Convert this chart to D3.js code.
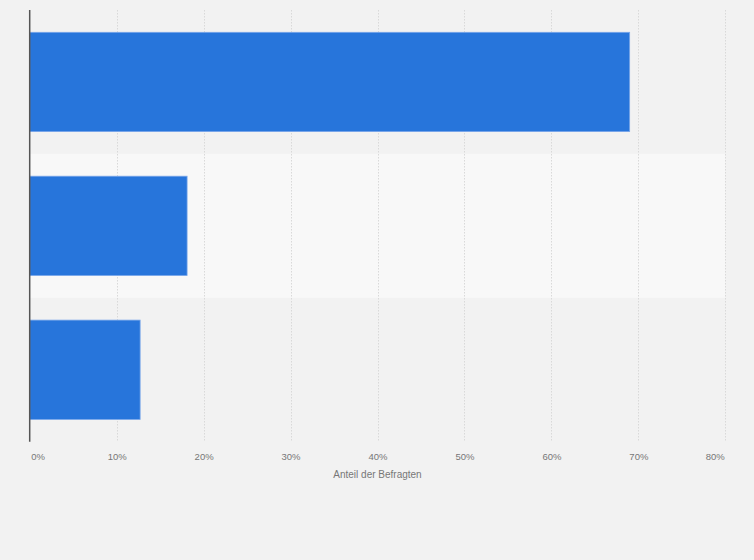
<!DOCTYPE html>
<html>
<head>
<meta charset="utf-8">
<script src="https://cdn.jsdelivr.net/npm/d3@7"></script>
<style>
  html, body { margin: 0; padding: 0; background: #f2f2f2; }
  svg { display: block; }
  text { font-family: "Liberation Sans", Arial, sans-serif; }
</style>
</head>
<body>
<svg id="chart" width="754" height="560"></svg>
<script>
// Data
const categories = ["Kategorie 1", "Kategorie 2", "Kategorie 3"];
const values = [69.0, 18.1, 12.7];
const tickValues = [0, 10, 20, 30, 40, 50, 60, 70, 80];
const axisTitle = "Anteil der Befragten";

const W = 754, H = 560;
const margin = { left: 29.7, right: 754 - 725.3, top: 10, bottom: 560 - 441.7 };
const svg = d3.select("#chart");

svg.append("rect").attr("width", W).attr("height", H).attr("fill", "#f2f2f2");

const x = d3.scaleLinear().domain([0, 80]).range([margin.left, W - margin.right]);
const y = d3.scaleBand().domain(categories).range([margin.top, H - margin.bottom]).paddingInner(0.31).paddingOuter(0.155);
const yBand = d3.scaleBand().domain(categories).range([margin.top, H - margin.bottom]).padding(0);

// alternating band
svg.append("g").selectAll("rect")
  .data(categories.filter((d, i) => i % 2 === 1))
  .join("rect")
  .attr("x", x(0))
  .attr("width", x(80) - x(0))
  .attr("y", d => yBand(d))
  .attr("height", yBand.bandwidth())
  .attr("fill", "#f8f8f8");

// gridlines
svg.append("g").selectAll("line")
  .data(tickValues.filter(d => d !== 0))
  .join("line")
  .attr("x1", d => Math.round(x(d)) + 0.5)
  .attr("x2", d => Math.round(x(d)) + 0.5)
  .attr("y1", margin.top)
  .attr("y2", H - margin.bottom)
  .attr("stroke", "#d9d9d9")
  .attr("stroke-width", 1)
  .attr("stroke-dasharray", "1.5,1.5");

// bars
svg.append("g").selectAll("rect")
  .data(values)
  .join("rect")
  .attr("x", x(0))
  .attr("y", (d, i) => y(categories[i]))
  .attr("width", d => x(d) - x(0))
  .attr("height", y.bandwidth())
  .attr("fill", "#2775db")
  .attr("stroke", "#78a6ea")
  .attr("stroke-width", 0.8);

// zero axis line
svg.append("line")
  .attr("x1", x(0)).attr("x2", x(0))
  .attr("y1", margin.top).attr("y2", H - margin.bottom)
  .attr("stroke", "#555")
  .attr("stroke-width", 1.5);

// tick labels
const xAxis = d3.axisBottom(x).tickValues(tickValues).tickFormat(d => d + "%").tickSize(0).tickPadding(0);
const gx = svg.append("g").attr("transform", `translate(0,${H - margin.bottom})`).call(xAxis);
gx.select(".domain").remove();
gx.selectAll("text")
  .attr("y", 18)
  .attr("dy", 0)
  .attr("fill", "#777")
  .style("font-size", "9.5px")
  .attr("text-anchor", (d, i) => i === 0 ? "start" : (i === tickValues.length - 1 ? "end" : "middle"))
  .attr("x", (d, i) => i === 0 ? 1 : (i === tickValues.length - 1 ? -1 : 0));

// axis title
svg.append("text")
  .attr("x", (x(0) + x(80)) / 2)
  .attr("y", 477.5)
  .attr("text-anchor", "middle")
  .attr("fill", "#777")
  .style("font-size", "10px")
  .text(axisTitle);
</script>
</body>
</html>
